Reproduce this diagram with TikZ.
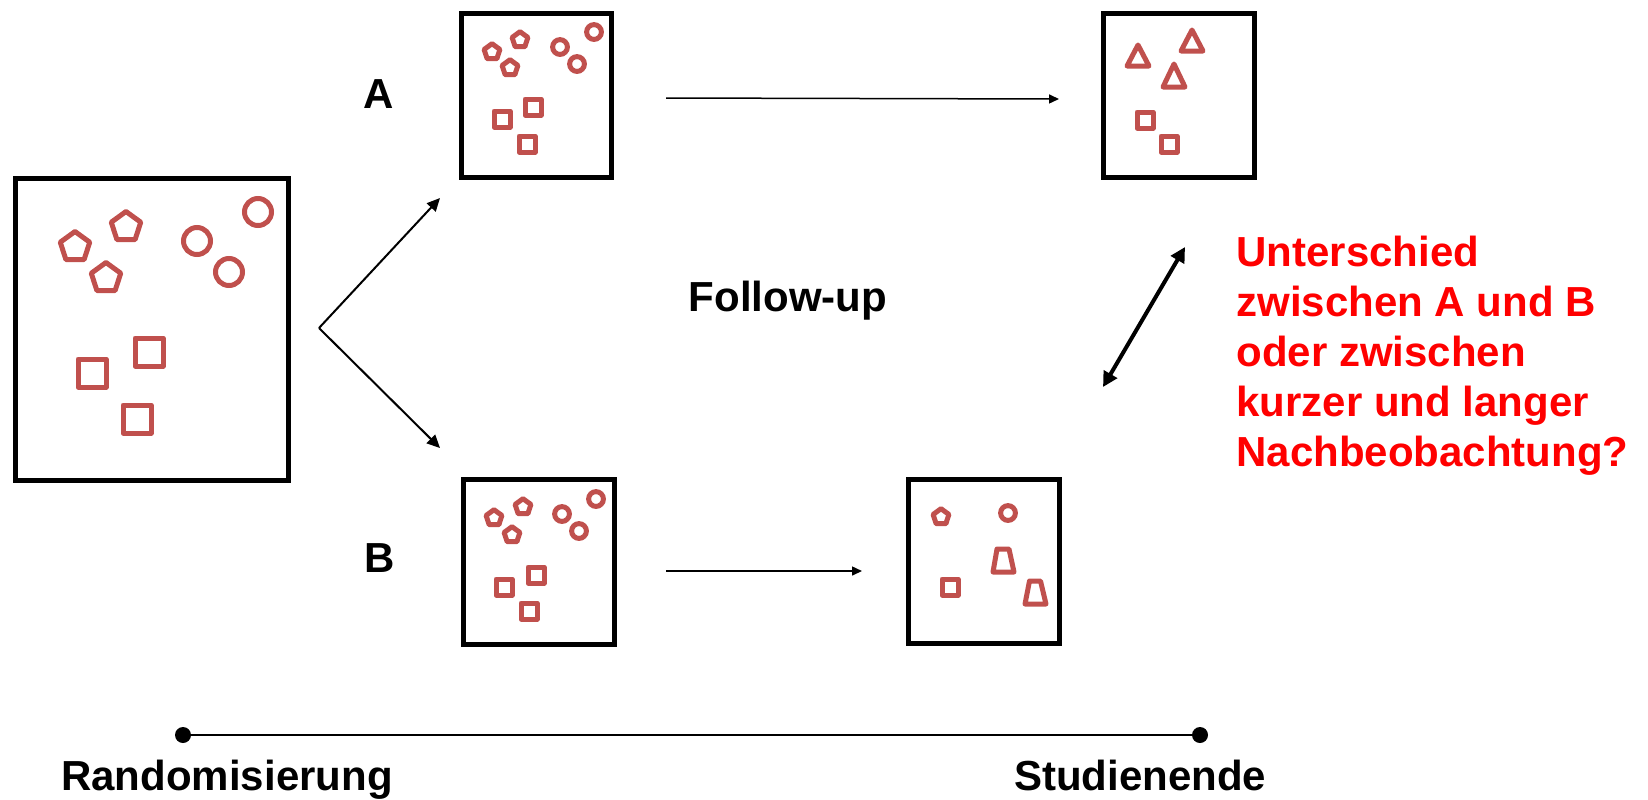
\documentclass[tikz,border=0pt]{standalone}
\usepackage{fontspec}
\setmainfont{Liberation Sans}
\usetikzlibrary{shapes.geometric,arrows.meta}
\definecolor{shp}{HTML}{C0504D}
\definecolor{qred}{HTML}{FF0000}
\begin{document}
\begin{tikzpicture}[x=0.5pt,y=-0.5pt,
  frame/.style n args={2}{draw=black, line width=2.5pt, rectangle, minimum width=#1, minimum height=#2, inner sep=0pt},
  pent/.style={draw=shp, line width=2.5pt, line join=round, regular polygon, regular polygon sides=5, minimum size=#1, inner sep=0pt, outer sep=0pt},
  circ/.style={draw=shp, line width=2.5pt, circle, minimum size=#1, inner sep=0pt},
  sqr/.style={draw=shp, line width=2.5pt, line join=round, rectangle, minimum size=#1, inner sep=0pt},
  shpline/.style={draw=shp, line width=2.5pt, line join=round},
  lbl/.style={font=\bfseries\fontsize{21pt}{25pt}\selectfont, inner sep=0pt, anchor=base},
  dot/.style={circle, fill=black, minimum size=8pt, inner sep=0pt},
  thinarrow/.style={line width=0.75pt, -{Triangle[length=5pt,width=4.5pt]}},
  diagarrow/.style={line width=1pt, -{Triangle[length=6.5pt,width=6pt]}},
  dblarrow/.style={line width=2pt, {Triangle[length=7.5pt,width=7.5pt]}-{Triangle[length=7.5pt,width=7.5pt]}}
]
\useasboundingbox (0,0) rectangle (1648,799);

% frames
\node[frame={136.5pt}{151pt}] (R) at (151.5,329) {};
\node[frame={75pt}{82pt}] (A) at (536,95) {};
\node[frame={75.5pt}{82pt}] (A2) at (1178.5,95) {};
\node[frame={75.5pt}{82.5pt}] (B) at (538.5,561.5) {};
\node[frame={75.5pt}{82pt}] (B2) at (983.5,561) {};

% big box shapes
\node[pent=15.5pt] (rp1) at (75,247) {};
\node[pent=15.5pt] (rp2) at (126,227) {};
\node[pent=15.5pt] (rp3) at (106,278) {};
\node[circ=13.5pt] (rc1) at (197,241) {};
\node[circ=13.5pt] (rc2) at (229,272) {};
\node[circ=13.5pt] (rc3) at (258,212) {};
\node[sqr=14pt] (rs1) at (149,352) {};
\node[sqr=14pt] (rs2) at (92,373) {};
\node[sqr=14pt] (rs3) at (137,419) {};

% box A shapes
\node[pent=8.3pt] (ap1) at (492,52) {};
\node[pent=8.3pt] (ap2) at (520,40) {};
\node[pent=8.3pt] (ap3) at (510,68) {};
\node[circ=7.4pt] (ac1) at (560,47) {};
\node[circ=7.4pt] (ac2) at (577,64) {};
\node[circ=7.4pt] (ac3) at (594,32) {};
\node[sqr=8pt] (as1) at (502,119) {};
\node[sqr=8pt] (as2) at (533,107) {};
\node[sqr=8pt] (as3) at (527,144) {};

% box A2 shapes
\draw[shpline] (1138,45) -- (1149,66) -- (1127,66) -- cycle;
\draw[shpline] (1192,30) -- (1203,51) -- (1181,51) -- cycle;
\draw[shpline] (1174,64) -- (1185,87) -- (1163,87) -- cycle;
\node[sqr=8pt] (a2s1) at (1145,120) {};
\node[sqr=8pt] (a2s2) at (1169,144) {};

% box B shapes
\node[pent=8.3pt] (bp1) at (494,518) {};
\node[pent=8.3pt] (bp2) at (523,507) {};
\node[pent=8.3pt] (bp3) at (512,535) {};
\node[circ=7.4pt] (bc1) at (562,514) {};
\node[circ=7.4pt] (bc2) at (579,531) {};
\node[circ=7.4pt] (bc3) at (596,499) {};
\node[sqr=8pt] (bs1) at (504,587) {};
\node[sqr=8pt] (bs2) at (536,575) {};
\node[sqr=8pt] (bs3) at (529,611) {};

% box B2 shapes
\node[pent=8.3pt] (b2p) at (941,517) {};
\node[circ=7.4pt] (b2c) at (1008,513) {};
\node[sqr=8pt] (b2s) at (950,587) {};
\draw[shpline] (997,549) -- (1009,549) -- (1014,572) -- (993,572) -- cycle;
\draw[shpline] (1029.5,581) -- (1040.5,581) -- (1046,604) -- (1025,604) -- cycle;

% connectors
\coordinate (J) at (319,328);
\coordinate (Jup) at (440,198);
\coordinate (Jdn) at (440,448);
\draw[diagarrow] (J) -- (Jup);
\draw[diagarrow] (J) -- (Jdn);

\coordinate (As) at (666,98);
\coordinate (Ae) at (1059,99);
\draw[thinarrow] (As) -- (Ae);
\coordinate (Bs) at (666,571);
\coordinate (Be) at (862,571);
\draw[thinarrow] (Bs) -- (Be);

\coordinate (D1) at (1185,247);
\coordinate (D2) at (1103,387);
\draw[dblarrow] (D1) -- (D2);

% timeline
\node[dot] (t1) at (183,735) {};
\node[dot] (t2) at (1200,735) {};
\draw[line width=1.35pt] (t1) -- (t2);

% labels
\node[lbl] (la) at (379,108) {A};
\node[lbl] (lb) at (380,572) {B};
\node[lbl] (lf) at (788,311) {Follow-up};
\node[lbl] (lr) at (227,790) {Randomisierung};
\node[lbl] (ls) at (1140,790) {Studienende};
\node[font=\bfseries\fontsize{21pt}{25pt}\selectfont, text=qred, align=left, inner sep=0pt, anchor=north west] (q) at (1236,236)
  {Unterschied\\zwischen A und B\\oder zwischen\\kurzer und langer\\Nachbeobachtung?};
\end{tikzpicture}
\end{document}
